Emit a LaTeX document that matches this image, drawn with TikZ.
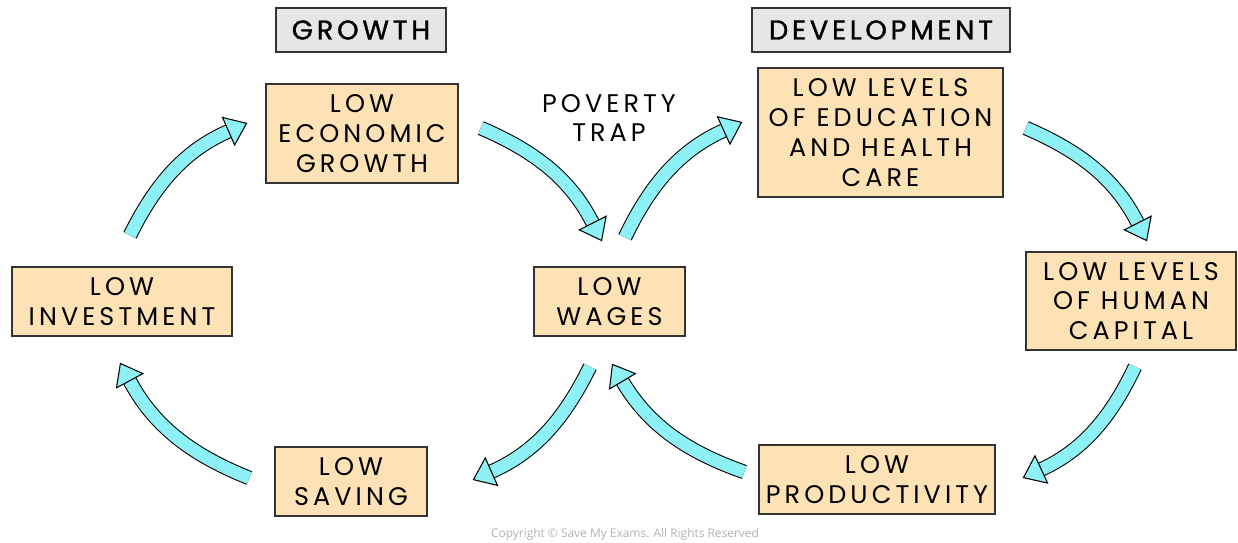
\documentclass[tikz,border=0pt]{standalone}
\usepackage{fontspec}
\setmainfont{Poppins}[LetterSpace=16]
\newfontfamily\headfont{Poppins}[LetterSpace=14, FakeBold=1.2]
\newfontfamily\notefont{Open Sans}
\usetikzlibrary{arrows.meta}
\definecolor{boxfill}{HTML}{FCE2B4}
\definecolor{headfill}{HTML}{E6E6E6}
\definecolor{flowcyan}{HTML}{8DF1F6}
\definecolor{edge}{HTML}{333333}
\tikzset{
  box/.style={draw=edge, line width=0.8pt, fill=boxfill, align=center, inner sep=0pt,
    font=\fontsize{14.5}{17}\selectfont},
  headbox/.style={box, fill=headfill, font=\headfont\fontsize{15.5}{17}\selectfont},
  flow/.style={draw=black, line width=0.6pt, double=flowcyan, double distance=0.25cm,
    -{Triangle[length=0.42cm, width=0.64cm, fill=flowcyan]}}
}
\begin{document}
\begin{tikzpicture}[x=0.02cm, y=-0.02cm]
	\useasboundingbox (0,0) rectangle (1238,543);

	% titles
	\node[headbox, minimum width=3.4cm, minimum height=0.88cm] (growth) at (361,30) {GROWTH};
	\node[headbox, minimum width=5.16cm, minimum height=0.88cm] (devel) at (881,30) {DEVELOPMENT};

	% boxes
	\node[box, minimum width=3.84cm, minimum height=1.98cm] (ecog) at (362,133.5) {LOW\\ECONOMIC\\GROWTH};
	\node[box, minimum width=4.9cm, minimum height=2.58cm] (edu) at (880.5,132.5) {LOW LEVELS\\OF EDUCATION\\AND HEALTH\\CARE};
	\node[box, minimum width=4.4cm, minimum height=1.38cm] (inv) at (122,301.5) {LOW\\INVESTMENT};
	\node[box, minimum width=3.02cm, minimum height=1.38cm] (wages) at (609.5,301.5) {LOW\\WAGES};
	\node[box, minimum width=4.2cm, minimum height=1.96cm] (humcap) at (1131,301) {LOW LEVELS\\OF HUMAN\\CAPITAL};
	\node[box, minimum width=3.04cm, minimum height=1.38cm] (saving) at (351,481.5) {LOW\\SAVING};
	\node[box, minimum width=4.72cm, minimum height=1.38cm] (prod) at (877,479.5) {LOW\\PRODUCTIVITY};

	\node[align=center, font=\fontsize{14.5}{17}\selectfont] (trap) at (609,118) {POVERTY\\TRAP};
	\node[text=black!30, font=\notefont\fontsize{6.8}{7}\selectfont] (copy) at (625,534) {Copyright © Save My Exams. All Rights Reserved};

	% left cycle
	\draw[flow] ([shift={(8,-31)}]inv.north) to[bend left=20] ([shift={(-18,-10.5)}]ecog.west);
	\draw[flow] ([shift={(22,-5.5)}]ecog.east) to[bend left=20] ([shift={(-7.5,-25)}]wages.north);
	\draw[flow] ([shift={(-19.5,30)}]wages.south) to[bend left=20] ([shift={(45,-1.5)}]saving.east);
	\draw[flow] ([shift={(-25,-3.5)}]saving.west) to[bend left=20] ([shift={(-2,26)}]inv.south);

	% right cycle
	\draw[flow] ([shift={(15.5,-29)}]wages.north) to[bend left=20] ([shift={(-15,-10.5)}]edu.west);
	\draw[flow] ([shift={(22,-4.5)}]edu.east) to[bend left=20] ([shift={(16,-10)}]humcap.north);
	\draw[flow] ([shift={(4,16)}]humcap.south) to[bend left=20] ([shift={(27,-1.5)}]prod.east);
	\draw[flow] ([shift={(-14,-7.5)}]prod.west) to[bend left=20] ([shift={(2.5,27)}]wages.south);
\end{tikzpicture}
\end{document}
